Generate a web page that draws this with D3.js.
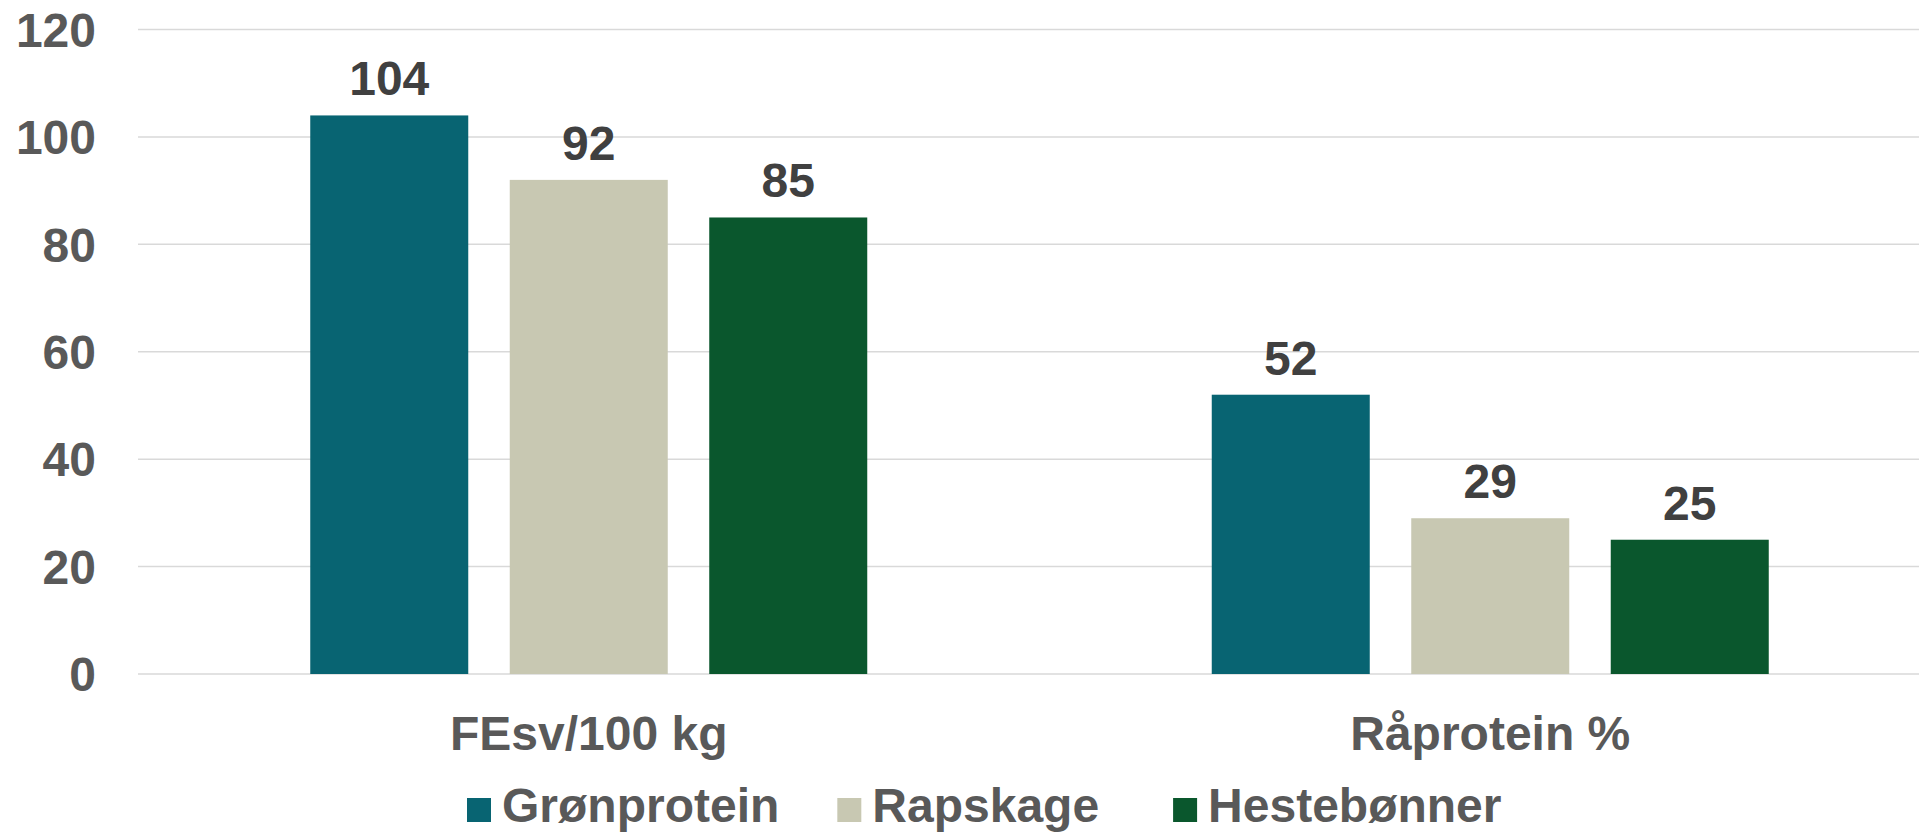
<!DOCTYPE html>
<html>
<head>
<meta charset="utf-8">
<script src="https://cdn.jsdelivr.net/npm/d3@7"></script>
<style>
  html, body { margin: 0; padding: 0; background: #fff; overflow: hidden; }
  svg { display: block; }
  text { font-family: "Liberation Sans", Arial, sans-serif; font-weight: bold; }
</style>
</head>
<body>
<svg id="chart" width="1919" height="834"></svg>
<script>
const categories = ["FEsv/100 kg", "Råprotein %"];
const seriesNames = ["Grønprotein", "Rapskage", "Hestebønner"];
const groenprotein = [104, 52];
const rapskage = [92, 29];
const hestebonner = [85, 25];
const yTicks = [0, 20, 40, 60, 80, 100, 120];
const colors = ["#086472", "#C8C8B2", "#0A572D"];

const seriesValues = [groenprotein, rapskage, hestebonner];

const svg = d3.select("#chart");

const plotLeft = 138, plotRight = 1941, plotTop = 29.5, plotBottom = 674;

const y = d3.scaleLinear().domain([0, 120]).range([plotBottom, plotTop]);
const x0 = d3.scaleBand().domain(categories).range([plotLeft, plotRight]).padding(0);
const groupWidth = 557;
const x1 = d3.scaleBand().domain(seriesNames).range([0, groupWidth]).paddingInner(0.208).paddingOuter(0);
const groupOffset = (x0.bandwidth() - groupWidth) / 2;

// gridlines
svg.append("g")
  .selectAll("line")
  .data(yTicks)
  .join("line")
  .attr("x1", plotLeft)
  .attr("x2", plotRight)
  .attr("y1", d => y(d))
  .attr("y2", d => y(d))
  .attr("stroke", "#d9d9d9")
  .attr("stroke-width", 1.5);

// y axis labels
const yAxis = d3.axisLeft(y).tickValues(yTicks).tickSize(0).tickPadding(0);
const yg = svg.append("g").attr("transform", "translate(96,0)").call(yAxis);
yg.select(".domain").remove();
yg.selectAll("text")
  .attr("font-size", 48)
  .attr("font-family", "Liberation Sans, Arial, sans-serif")
  .attr("font-weight", "bold")
  .attr("fill", "#595959")
  .attr("dy", "0.35em");

// bars
const groups = svg.append("g")
  .selectAll("g")
  .data(categories)
  .join("g")
  .attr("transform", d => `translate(${x0(d) + groupOffset},0)`);

groups.selectAll("rect")
  .data((c, ci) => seriesNames.map((s, si) => ({ s, si, v: seriesValues[si][ci] })))
  .join("rect")
  .attr("x", d => x1(d.s))
  .attr("width", x1.bandwidth())
  .attr("y", d => y(d.v))
  .attr("height", d => y(0) - y(d.v))
  .attr("fill", d => colors[d.si]);

groups.selectAll("text")
  .data((c, ci) => seriesNames.map((s, si) => ({ s, si, v: seriesValues[si][ci] })))
  .join("text")
  .attr("x", d => x1(d.s) + x1.bandwidth() / 2)
  .attr("y", d => y(d.v) - 20)
  .attr("text-anchor", "middle")
  .attr("font-size", 48)
  .attr("fill", "#404040")
  .text(d => d.v);

// category labels
const xAxis = d3.axisBottom(x0).tickSize(0).tickPadding(0);
const xg = svg.append("g").call(xAxis);
xg.select(".domain").remove();
xg.selectAll("text")
  .attr("y", 750)
  .attr("dy", 0)
  .attr("font-size", 48)
  .attr("font-family", "Liberation Sans, Arial, sans-serif")
  .attr("font-weight", "bold")
  .attr("fill", "#595959");

// legend
const legend = svg.append("g");
const legendGaps = [58, 74, 0];
let lx = 467;
const legendBaseline = 822;
seriesNames.forEach((name, i) => {
  legend.append("rect")
    .attr("x", lx)
    .attr("y", legendBaseline - 24)
    .attr("width", 24)
    .attr("height", 24)
    .attr("fill", colors[i]);
  const t = legend.append("text")
    .attr("x", lx + 35)
    .attr("y", legendBaseline)
    .attr("font-size", 48)
    .attr("fill", "#595959")
    .text(name);
  lx += 35 + t.node().getComputedTextLength() + legendGaps[i];
});
</script>
</body>
</html>
